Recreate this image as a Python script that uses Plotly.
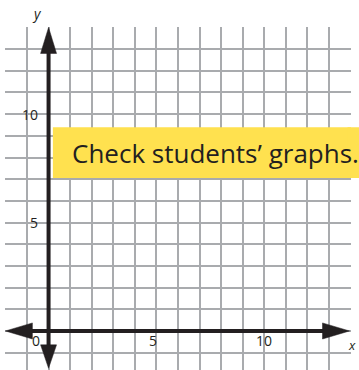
import plotly.graph_objects as go

# axis ranges / ticks
x_min, x_max = -2, 14
y_min, y_max = -1.8, 14
x_tick_vals = [0, 5, 10]
x_tick_text = ["0", "5", "10"]
y_tick_vals = [5, 10]
y_tick_text = ["5", "10"]
note_text = "Check students\u2019 graphs."

INK = "#231f20"
GRID = "#a9abae"
YELLOW = "#ffe14f"
FONT = "Open Sans"

fig = go.Figure()
fig.add_trace(go.Scatter(x=[x_min, x_max], y=[0, 0], mode="markers",
                         marker=dict(opacity=0), hoverinfo="skip", showlegend=False))

shapes = []
alen_x, ahw_x = 1.25, 0.37
alen_y, ahw_y = 1.2, 0.37
shapes.append(dict(type="line", x0=x_min + alen_x * 0.8, x1=x_max - alen_x * 0.8, y0=0, y1=0,
                   line=dict(color=INK, width=4), layer="above"))
shapes.append(dict(type="line", x0=0, x1=0, y0=-1.7 + alen_y * 0.8, y1=y_max - alen_y * 0.8,
                   line=dict(color=INK, width=4), layer="above"))

def tri(tx, ty, bx1, by1, bx2, by2):
    return dict(type="path", path=f"M {tx},{ty} L {bx1},{by1} L {bx2},{by2} Z",
                fillcolor=INK, line=dict(color=INK, width=0.5), layer="above")

xt_r = x_max - 0.05
shapes.append(tri(xt_r, 0, xt_r - alen_x, ahw_x, xt_r - alen_x, -ahw_x))
xt_l = x_min
shapes.append(tri(xt_l, 0, xt_l + alen_x, ahw_x, xt_l + alen_x, -ahw_x))
shapes.append(tri(0, y_max, -ahw_y, y_max - alen_y, ahw_y, y_max - alen_y))
yb = -1.72
shapes.append(tri(0, yb, -ahw_y, yb + alen_y * 0.9, ahw_y, yb + alen_y * 0.9))

# yellow note box (extends past the right edge of the grid)
shapes.append(dict(type="rect", xref="x", yref="y", x0=0.2, x1=14.02, y0=7.05, y1=9.4,
                   fillcolor=YELLOW, line=dict(width=0), layer="above"))
shapes.append(dict(type="rect", xref="paper", yref="y", x0=0.99, x1=1.1, y0=7.05, y1=9.4,
                   fillcolor=YELLOW, line=dict(width=0), layer="above"))

annotations = []
x_lab_pos = [-0.6, 4.83, 9.97]
for v, t, p in zip(x_tick_vals, x_tick_text, x_lab_pos):
    annotations.append(dict(x=p, y=-0.46, text=t, showarrow=False,
                            font=dict(family=FONT, size=14, color=INK),
                            xanchor="center", yanchor="middle"))
for v, t in zip(y_tick_vals, y_tick_text):
    annotations.append(dict(x=-0.4, y=v, text=t, showarrow=False,
                            font=dict(family=FONT, size=14, color=INK),
                            xanchor="right", yanchor="middle"))
annotations.append(dict(xref="paper", yref="paper", x=1.0205, y=0.072, text="<i>x</i>",
                        showarrow=False, font=dict(family=FONT, size=13, color=INK),
                        xanchor="right", yanchor="middle"))
annotations.append(dict(xref="paper", yref="paper", x=0.092, y=1.038, text="<i>y</i>",
                        showarrow=False, font=dict(family=FONT, size=14, color=INK),
                        xanchor="center", yanchor="middle"))
annotations.append(dict(x=0.97, y=8.2, text=note_text, showarrow=False,
                        font=dict(family=FONT, size=26, color=INK),
                        xanchor="left", yanchor="middle"))

fig.update_layout(
    width=359, height=370,
    margin=dict(l=5, r=8, t=27, b=0),
    paper_bgcolor="white", plot_bgcolor="white",
    shapes=shapes, annotations=annotations,
    showlegend=False,
)
fig.update_xaxes(range=[x_min - 0.02, x_max + 0.02], dtick=1, tick0=0, showgrid=True,
                 gridcolor=GRID, gridwidth=1.6, zeroline=False, showticklabels=False,
                 ticks="", showline=False, fixedrange=True)
fig.update_yaxes(range=[y_min, y_max + 0.02], dtick=1, tick0=0, showgrid=True,
                 gridcolor=GRID, gridwidth=1.6, zeroline=False, showticklabels=False,
                 ticks="", showline=False, fixedrange=True)

fig.write_html("out.html", config={"displayModeBar": False},
               post_script="document.body.style.margin='0';document.body.style.overflow='hidden';")
